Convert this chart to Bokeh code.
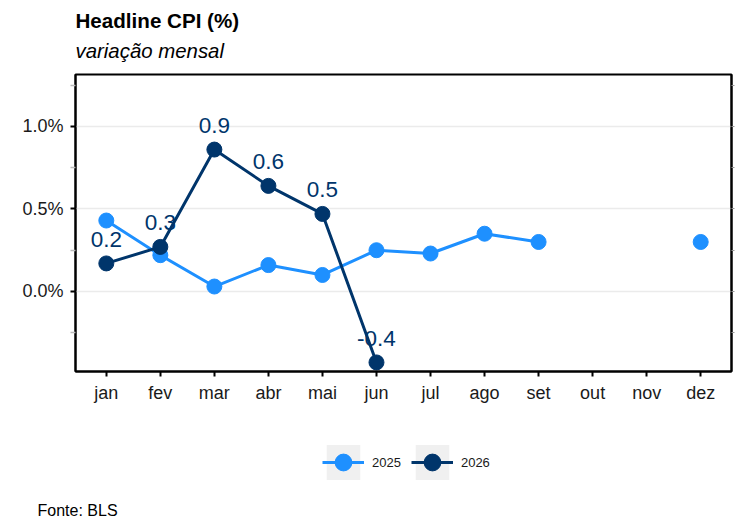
import math
from bokeh.plotting import figure
from bokeh.layouts import column
from bokeh.models import (Range1d, FixedTicker, LinearAxis, Legend, LegendItem,
                          Label, Title, ColumnDataSource)
from bokeh.core.properties import value
from bokeh.embed import file_html
from bokeh.resources import INLINE

nan = float("nan")
months = ["jan", "fev", "mar", "abr", "mai", "jun", "jul", "ago", "set", "out", "nov", "dez"]
month_idx = list(range(1, 13))
cpi_2025 = [0.43, 0.22, 0.03, 0.16, 0.10, 0.25, 0.23, 0.35, 0.30, nan, nan, 0.30]
cpi_2026 = [0.17, 0.27, 0.86, 0.64, 0.47, -0.43]
y_major = [0.0, 0.5, 1.0]
y_minor = [-0.25, 0.25, 0.75, 1.25]
y_labels = ["0.0%", "0.5%", "1.0%"]
series_names = ["2025", "2026"]

C25 = "#1E90FF"
C26 = "#00356B"
FONT = "Liberation Sans"


def blank_fig(w, h, bottom=0):
    f = figure(width=w, height=h, min_border=0, x_range=Range1d(0, 1), y_range=Range1d(5, 6),
               x_axis_type=None, y_axis_type=None, output_backend="svg",
               toolbar_location=None, title=None)
    f.min_border_bottom = bottom
    f.outline_line_color = None
    f.background_fill_color = "white"
    f.border_fill_color = "white"
    f.xgrid.visible = False
    f.ygrid.visible = False
    return f


# ---- header with title / subtitle
p0 = blank_fig(744, 72)
p0.add_layout(Label(x=0, y=52, x_units="screen", y_units="screen", text="Headline CPI (%)",
                    text_font=FONT, text_font_size="20.6px", text_font_style="bold",
                    text_color="black", text_baseline="middle", text_align="left"))
p0.add_layout(Label(x=0, y=22, x_units="screen", y_units="screen", text="variação mensal",
                    text_font=FONT, text_font_size="20.4px", text_font_style="italic",
                    text_color="black", text_baseline="middle", text_align="left"))

# ---- main plot
p = figure(frame_width=656, frame_height=297,
           min_border_left=75, min_border_top=2, min_border_right=10, min_border_bottom=34,
           x_range=Range1d(0.43, 12.57), y_range=Range1d(-0.485, 1.315),
           output_backend="svg", toolbar_location=None, title=None)
p.background_fill_color = "white"
p.border_fill_color = "white"
p.outline_line_color = "black"
p.outline_line_width = 2

xa = p.xaxis[0]
xa.ticker = FixedTicker(ticks=month_idx)
xa.major_label_overrides = {i: m for i, m in zip(month_idx, months)}
xa.minor_tick_line_color = None
ya = p.yaxis[0]
ya.ticker = FixedTicker(ticks=y_major, minor_ticks=y_minor)
ya.major_label_overrides = {v: l for v, l in zip(y_major, y_labels)}
for ax in (xa, ya):
    ax.axis_line_color = "black"
    ax.axis_line_width = 2
    ax.major_tick_line_color = "black"
    ax.major_tick_line_width = 2
    ax.major_tick_out = 5
    ax.major_tick_in = 0
    ax.major_label_text_font = FONT
    ax.major_label_text_font_size = "18px"
    ax.major_label_text_color = "#1a1a1a"
xa.major_label_standoff = 6
ya.major_label_standoff = 7
ya.minor_tick_line_color = "#BBBBBB"
ya.minor_tick_out = 5
ya.minor_tick_in = 0
ya.minor_tick_line_width = 1.5

right_ticks = y_minor + y_major
ra = LinearAxis(ticker=FixedTicker(ticks=right_ticks))
ra.major_label_overrides = {v: "" for v in right_ticks}
ra.major_label_standoff = 0
ra.major_tick_line_color = "#999999"
ra.major_tick_out = 3
ra.major_tick_in = 0
ra.minor_tick_line_color = None
ra.axis_line_color = "black"
ra.axis_line_width = 2
p.add_layout(ra, "right")

p.xgrid.visible = False
p.ygrid.ticker = FixedTicker(ticks=y_major)
p.ygrid.grid_line_color = "#EBEBEB"
p.ygrid.grid_line_width = 1.5

src25 = ColumnDataSource(dict(x=month_idx, y=cpi_2025))
x26 = month_idx[:len(cpi_2026)]
src26 = ColumnDataSource(dict(x=x26, y=cpi_2026, lab=[f"{v:.1f}" for v in cpi_2026]))

p.line("x", "y", source=src25, line_color=C25, line_width=3)
p.scatter("x", "y", source=src25, size=15, fill_color=C25, line_color=C25)
p.line("x", "y", source=src26, line_color=C26, line_width=3)
p.scatter("x", "y", source=src26, size=15, fill_color=C26, line_color=C26)
p.text("x", "y", text="lab", source=src26, text_align="center", text_baseline="middle",
       y_offset=-24, text_font=value(FONT), text_font_size="22.5px", text_color=C26)

# ---- footer: legend + source
p2 = blank_fig(744, 126, bottom=31)
items = []
for name, src, col in zip(series_names, [src25, src26], [C25, C26]):
    bg = p2.rect("x", "y", source=src, width=0.01, height=0.01, fill_color="#F0F0F0",
                 line_color=None)
    ln = p2.line("x", "y", source=src, line_color=col, line_width=3)
    sc = p2.scatter("x", "y", source=src, size=15, fill_color=col, line_color=col)
    items.append(LegendItem(label=name, renderers=[bg, ln, sc]))
legend = Legend(items=items, orientation="horizontal", location=(247, 16),
                glyph_width=42, glyph_height=44, label_standoff=8, spacing=10,
                padding=0, margin=0, border_line_color=None, background_fill_alpha=0,
                label_text_font=FONT, label_text_font_size="13px", label_text_color="#1a1a1a")
p2.add_layout(legend, "center")
p2.add_layout(Title(text="Fonte: BLS", text_font=FONT, text_font_size="16px",
                    text_font_style="normal", text_color="black", align="left",
                    vertical_align="middle", offset=-38, standoff=0), "below")

layout = column(p0, p, p2, spacing=0)
open("out.html", "w").write(file_html(layout, INLINE))
